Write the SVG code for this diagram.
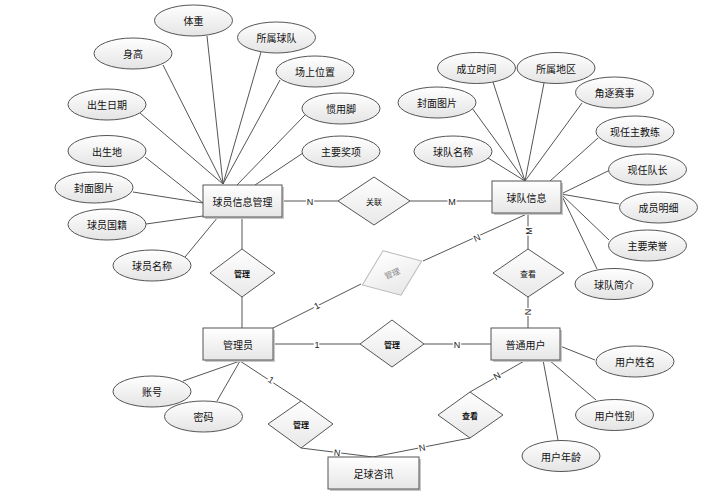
<svg xmlns="http://www.w3.org/2000/svg" width="701" height="495" viewBox="0 0 701 495">
<defs>
<linearGradient id="gE" x1="0" y1="0" x2="0" y2="1"><stop offset="0" stop-color="#ffffff"/><stop offset="1" stop-color="#e4e4e4"/></linearGradient>
<linearGradient id="gR" x1="0" y1="0" x2="0" y2="1"><stop offset="0" stop-color="#ffffff"/><stop offset="1" stop-color="#e6e6e6"/></linearGradient>
<linearGradient id="gD" x1="0" y1="0" x2="0" y2="1"><stop offset="0" stop-color="#ffffff"/><stop offset="1" stop-color="#e8e8e8"/></linearGradient>
</defs>
<style>
.conn line, .conn polyline{stroke:#555;stroke-width:1;fill:none}
.ent rect.sh{fill:#c8c8c8;stroke:none}
.ent rect.bx{fill:url(#gR);stroke:#555;stroke-width:1}
.att ellipse{fill:url(#gE);stroke:#555;stroke-width:1}
.rel polygon{fill:url(#gD);stroke:#555;stroke-width:1}
.rel2 polygon{fill:url(#gD);stroke:#bbb;stroke-width:1}
text{font-family:"Noto Sans CJK SC","Liberation Sans",sans-serif;dominant-baseline:central;text-anchor:middle;fill:#111}
.t{font-size:10px}
.rt{font-size:8px;font-weight:bold}
.rt2{font-size:8px;fill:#888}
.lb{font-family:"Liberation Sans","DejaVu Sans",sans-serif;font-size:9px;stroke:#fff;stroke-width:3px;paint-order:stroke;fill:#222}
</style>
<rect width="701" height="495" fill="#fff"/>
<g id="connectors" class="conn">
<!-- player attributes -->
<line x1="207" y1="36" x2="223" y2="184"/>
<line x1="163" y1="65" x2="223" y2="184"/>
<line x1="261" y1="52" x2="223" y2="184"/>
<line x1="280" y1="80" x2="223" y2="184"/>
<line x1="140" y1="113" x2="223" y2="184"/>
<line x1="305" y1="115" x2="237" y2="185"/>
<line x1="145" y1="157" x2="203" y2="203"/>
<line x1="303" y1="153" x2="255" y2="185"/>
<line x1="133" y1="192" x2="203" y2="203"/>
<line x1="146" y1="224" x2="203" y2="216"/>
<line x1="185" y1="257" x2="218" y2="217"/>
<!-- team attributes -->
<line x1="493" y1="82" x2="525" y2="181"/>
<line x1="544" y1="83" x2="525" y2="181"/>
<line x1="472" y1="108" x2="525" y2="181"/>
<line x1="582" y1="103" x2="525" y2="181"/>
<line x1="598" y1="138" x2="550" y2="181"/>
<line x1="488" y1="158" x2="525" y2="181"/>
<line x1="610" y1="170" x2="561" y2="194"/>
<line x1="619" y1="204" x2="561" y2="194"/>
<line x1="609" y1="240" x2="561" y2="194"/>
<line x1="597" y1="269" x2="561" y2="194"/>
<!-- relations -->
<line x1="282" y1="201" x2="338" y2="201"/>
<line x1="410" y1="201" x2="492" y2="201"/>
<line x1="242" y1="217" x2="242" y2="249"/>
<line x1="242" y1="297" x2="242" y2="328"/>
<line x1="273" y1="328" x2="361" y2="284"/>
<line x1="423" y1="261" x2="529" y2="213"/>
<line x1="528" y1="213" x2="528" y2="249"/>
<line x1="528" y1="297" x2="528" y2="328"/>
<line x1="273" y1="344" x2="360" y2="344"/>
<line x1="424" y1="344" x2="491" y2="344"/>
<line x1="240" y1="361" x2="301" y2="401"/>
<polyline points="301,448 373,457 470,438"/>
<line x1="470" y1="392" x2="526" y2="360"/>
<!-- admin attributes -->
<line x1="183" y1="381" x2="240" y2="361"/>
<line x1="217" y1="401" x2="240" y2="361"/>
<!-- user attributes -->
<line x1="595" y1="360" x2="560" y2="346"/>
<line x1="596" y1="400" x2="549" y2="360"/>
<line x1="558" y1="440" x2="543" y2="360"/>
<!-- cardinality labels -->
<text class="lb" x="310" y="202">N</text>
<text class="lb" x="452" y="202">M</text>
<text class="lb" x="317" y="306" transform="rotate(-27 317 306)">1</text>
<text class="lb" x="477" y="238" transform="rotate(-24 477 238)">N</text>
<text class="lb" x="529" y="231" transform="rotate(-90 529 231)">M</text>
<text class="lb" x="528" y="312" transform="rotate(90 528 312)">N</text>
<text class="lb" x="317" y="345">1</text>
<text class="lb" x="457" y="345">N</text>
<text class="lb" x="271" y="380" transform="rotate(33 271 380)">1</text>
<text class="lb" x="337" y="453" transform="rotate(7 337 453)">N</text>
<text class="lb" x="422" y="448" transform="rotate(-11 422 448)">N</text>
<text class="lb" x="497" y="376" transform="rotate(-30 497 376)">N</text>
</g>
<g id="player" class="ent"><rect class="sh" x="205" y="187" width="79" height="32"/><rect class="bx" x="203" y="185" width="79" height="32"/><text class="t" x="242.5" y="201">球员信息管理</text></g>
<g id="team" class="ent"><rect class="sh" x="494" y="183" width="69" height="32"/><rect class="bx" x="492" y="181" width="69" height="32"/><text class="t" x="526.5" y="197">球队信息</text></g>
<g id="admin" class="ent"><rect class="sh" x="205" y="330" width="70" height="32"/><rect class="bx" x="203" y="328" width="70" height="32"/><text class="t" x="238" y="344">管理员</text></g>
<g id="user" class="ent"><rect class="sh" x="493" y="330" width="69" height="32"/><rect class="bx" x="491" y="328" width="69" height="32"/><text class="t" x="525.5" y="344">普通用户</text></g>
<g id="news" class="ent"><rect class="sh" x="330" y="459" width="91" height="32"/><rect class="bx" x="328" y="457" width="91" height="32"/><text class="t" x="373.5" y="473">足球咨讯</text></g>

<g id="a-weight" class="att"><ellipse cx="193.5" cy="20.5" rx="39" ry="15.5"/><text class="t" x="193.5" y="20.5">体重</text></g>
<g id="a-height" class="att"><ellipse cx="133" cy="53.5" rx="39" ry="15.5"/><text class="t" x="133" y="53.5">身高</text></g>
<g id="a-club" class="att"><ellipse cx="276.5" cy="37.5" rx="39" ry="15.5"/><text class="t" x="276.5" y="37.5">所属球队</text></g>
<g id="a-position" class="att"><ellipse cx="315" cy="71.5" rx="39" ry="15.5"/><text class="t" x="315" y="71.5">场上位置</text></g>
<g id="a-birthdate" class="att"><ellipse cx="107" cy="104.5" rx="39" ry="15.5"/><text class="t" x="107" y="104.5">出生日期</text></g>
<g id="a-foot" class="att"><ellipse cx="341" cy="108.5" rx="39" ry="15.5"/><text class="t" x="341" y="108.5">惯用脚</text></g>
<g id="a-birthplace" class="att"><ellipse cx="107" cy="151" rx="39" ry="15.5"/><text class="t" x="107" y="151">出生地</text></g>
<g id="a-awards" class="att"><ellipse cx="341" cy="151.5" rx="39" ry="15.5"/><text class="t" x="341" y="151.5">主要奖项</text></g>
<g id="a-pcover" class="att"><ellipse cx="94" cy="187.5" rx="39" ry="15.5"/><text class="t" x="94" y="187.5">封面图片</text></g>
<g id="a-nation" class="att"><ellipse cx="107" cy="224.5" rx="39" ry="15.5"/><text class="t" x="107" y="224.5">球员国籍</text></g>
<g id="a-pname" class="att"><ellipse cx="152" cy="265.5" rx="39" ry="15.5"/><text class="t" x="152" y="265.5">球员名称</text></g>

<g id="a-founded" class="att"><ellipse cx="476.5" cy="68" rx="39" ry="15.5"/><text class="t" x="476.5" y="68">成立时间</text></g>
<g id="a-region" class="att"><ellipse cx="556" cy="68" rx="39" ry="15.5"/><text class="t" x="556" y="68">所属地区</text></g>
<g id="a-tcover" class="att"><ellipse cx="437" cy="102.5" rx="39" ry="15.5"/><text class="t" x="437" y="102.5">封面图片</text></g>
<g id="a-league" class="att"><ellipse cx="614.5" cy="92.5" rx="39" ry="15.5"/><text class="t" x="614.5" y="92.5">角逐赛事</text></g>
<g id="a-coach" class="att"><ellipse cx="635" cy="131.5" rx="39" ry="15.5"/><text class="t" x="635" y="131.5">现任主教练</text></g>
<g id="a-tname" class="att"><ellipse cx="453" cy="151.5" rx="39" ry="15.5"/><text class="t" x="453" y="151.5">球队名称</text></g>
<g id="a-captain" class="att"><ellipse cx="647.5" cy="169.5" rx="39" ry="15.5"/><text class="t" x="647.5" y="169.5">现任队长</text></g>
<g id="a-members" class="att"><ellipse cx="658.5" cy="207.5" rx="39" ry="15.5"/><text class="t" x="658.5" y="207.5">成员明细</text></g>
<g id="a-honors" class="att"><ellipse cx="647.5" cy="245.5" rx="39" ry="15.5"/><text class="t" x="647.5" y="245.5">主要荣誉</text></g>
<g id="a-intro" class="att"><ellipse cx="614" cy="284" rx="39" ry="15.5"/><text class="t" x="614" y="284">球队简介</text></g>

<g id="a-account" class="att"><ellipse cx="152" cy="391.5" rx="39" ry="15.5"/><text class="t" x="152" y="391.5">账号</text></g>
<g id="a-password" class="att"><ellipse cx="203.5" cy="416.5" rx="39" ry="15.5"/><text class="t" x="203.5" y="416.5">密码</text></g>

<g id="a-uname" class="att"><ellipse cx="635" cy="361.5" rx="39" ry="15.5"/><text class="t" x="635" y="361.5">用户姓名</text></g>
<g id="a-ugender" class="att"><ellipse cx="614.5" cy="415" rx="39" ry="15.5"/><text class="t" x="614.5" y="415">用户性别</text></g>
<g id="a-uage" class="att"><ellipse cx="561" cy="456" rx="39" ry="15.5"/><text class="t" x="561" y="456">用户年龄</text></g>

<g id="r-link" class="rel"><polygon points="374,177 410,201 374,225 338,201"/><text class="rt" x="374" y="201" style="font-weight:normal">关联</text></g>
<g id="r-manage1" class="rel"><polygon points="242,249 275,273 242,297 210,273"/><text class="rt" x="242" y="273">管理</text></g>
<g id="r-manage2" class="rel2"><polygon points="392,249 424,273 392,297 360,273" transform="rotate(-22 392 273)"/><text class="rt2" x="392" y="273" transform="rotate(-22 392 273)">管理</text></g>
<g id="r-view1" class="rel"><polygon points="528,249 564,273 528,297 493,273"/><text class="rt" x="528" y="273" style="font-weight:normal">查看</text></g>
<g id="r-manage3" class="rel"><polygon points="392,320 424,344 392,367 360,344"/><text class="rt" x="392" y="344">管理</text></g>
<g id="r-manage4" class="rel"><polygon points="301,401 333,424 301,448 268,424"/><text class="rt" x="301" y="424">管理</text></g>
<g id="r-view2" class="rel"><polygon points="470,392 503,415 470,438 438,415"/><text class="rt" x="470" y="415">查看</text></g>
</svg>
